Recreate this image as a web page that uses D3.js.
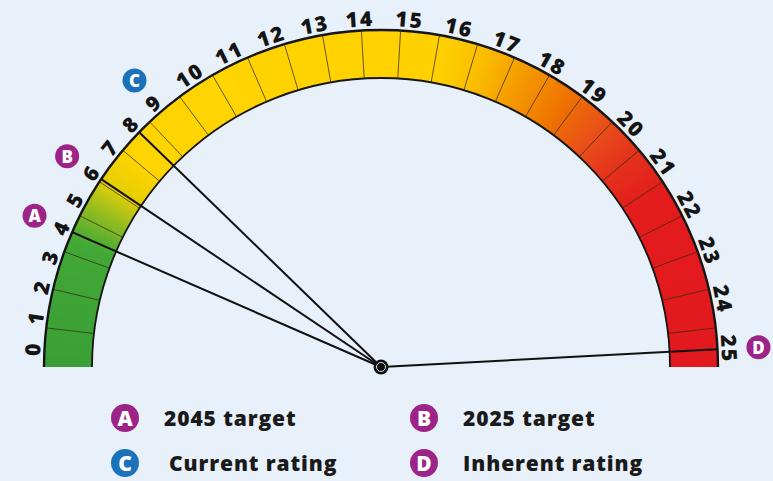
<!DOCTYPE html>
<html>
<head>
<meta charset="utf-8">
<script src="https://cdn.jsdelivr.net/npm/d3@7/dist/d3.min.js"></script>
<style>
  body { margin: 0; background: #e8f0fa; }
  text { font-family: "Open Sans", "DejaVu Sans", sans-serif; font-weight: 800; }
</style>
</head>
<body>
<div class="viz"></div>
<script>
// gauge scale labels 0..25 and the number of coloured cells in the band
var tickLabels = d3.range(0, 26);
var segmentCount = 27;

// the four markers
var markerKeys = ["A", "B", "C", "D"];
var markerValues = [4, 6, 8, 25];      // where each needle points
var badgeValues = [4, 6, 9, 25];       // label the badge sits beside
var markerNames = ["2045 target", "2025 target", "Current rating", "Inherent rating"];

var width = 773, height = 481;
var cx = 381, cy = 367;
var rOuter = 337, rInner = 289, rLabel = 349, rBadge = 378;

var svg = d3.select(".viz").append("svg")
    .attr("width", width)
    .attr("height", height);

svg.append("rect").attr("width", width).attr("height", height).attr("fill", "#e8f0fa");

// value -> angle in degrees (0 = right, 180 = left); scale is not even across the dial
var angle = d3.scaleLinear().domain([0, 9, 14, 25]).range([177, 130.7, 93.5, 3]);

// colour along the band by angle
var colour = d3.scaleLinear()
    .domain([180, 158, 152, 146, 140, 80, 72, 64, 56, 48, 40, 32, 0])
    .range(["#3a9f36", "#42a836", "#8fbb22", "#e8cf05", "#ffd500", "#ffd100", "#fbbd00",
            "#f59800", "#ef7400", "#e9501a", "#e4301c", "#e31c1e", "#e2191e"]);

var rad = function(deg) { return deg * Math.PI / 180; };
var px = function(deg, r) { return cx + r * Math.cos(rad(deg)); };
var py = function(deg, r) { return cy - r * Math.sin(rad(deg)); };

var g = svg.append("g").attr("transform", "translate(" + cx + "," + cy + ")");

// band, drawn as thin overlapping slices so the colour blends
var step = 0.5;
var slices = d3.range(0, 180, step);
var arc = d3.arc().innerRadius(rInner).outerRadius(rOuter);
g.selectAll("path.slice")
  .data(slices)
  .enter().append("path")
    .attr("class", "slice")
    .attr("d", function(d) {
      var a0 = d === 0 ? 0 : d - 0.4;
      return arc({ startAngle: rad(90 - d - step), endAngle: rad(90 - a0) });
    })
    .attr("fill", function(d) { return colour(d + step / 2); });

// cell dividers
var dividers = d3.range(1, segmentCount).map(function(k) { return k * 180 / segmentCount; });
svg.selectAll("line.div")
  .data(dividers)
  .enter().append("line")
    .attr("class", "div")
    .attr("x1", function(d) { return px(d, rInner); })
    .attr("y1", function(d) { return py(d, rInner); })
    .attr("x2", function(d) { return px(d, rOuter); })
    .attr("y2", function(d) { return py(d, rOuter); })
    .attr("stroke", "#3a2a10")
    .attr("stroke-opacity", 0.75)
    .attr("stroke-width", 1);

// outlines
[rOuter, rInner].forEach(function(r, i) {
  g.append("path")
    .attr("d", d3.arc()({ innerRadius: r, outerRadius: r, startAngle: -Math.PI / 2, endAngle: Math.PI / 2 }))
    .attr("fill", "none")
    .attr("stroke", "#161616")
    .attr("stroke-width", i === 0 ? 2.4 : 1.8);
});

// tick labels
svg.selectAll("text.tick")
  .data(tickLabels)
  .enter().append("text")
    .attr("class", "tick")
    .attr("transform", function(d) {
      var a = angle(d);
      return "translate(" + px(a, rLabel) + "," + py(a, rLabel) + ") rotate(" + (90 - a) + ")";
    })
    .attr("text-anchor", "middle")
    .attr("dominant-baseline", "central")
    .attr("font-size", 21)
    .attr("letter-spacing", 2)
    .attr("fill", "#141414")
    .text(function(d) { return d; });

// needles
svg.selectAll("line.needle")
  .data(markerValues)
  .enter().append("line")
    .attr("class", "needle")
    .attr("x1", cx).attr("y1", cy)
    .attr("x2", function(d) { return px(angle(d), rOuter); })
    .attr("y2", function(d) { return py(angle(d), rOuter); })
    .attr("stroke", "#111")
    .attr("stroke-width", 2);

// pivot
svg.append("circle").attr("cx", cx).attr("cy", cy).attr("r", 7.5).attr("fill", "#111");
svg.append("circle").attr("cx", cx).attr("cy", cy).attr("r", 4.5)
    .attr("fill", "#111").attr("stroke", "#ddd").attr("stroke-width", 1);

var badgeColour = d3.scaleOrdinal().domain(markerKeys)
    .range(["#9c2387", "#9c2387", "#1b72b8", "#9c2387"]);

function badge(sel, r, fs) {
  sel.append("circle").attr("r", r).attr("fill", function(d) { return badgeColour(d.key); });
  sel.append("text")
    .attr("text-anchor", "middle")
    .attr("dominant-baseline", "central")
    .attr("font-size", fs)
    .attr("fill", "#fff")
    .text(function(d) { return d.key; });
}

var markers = markerKeys.map(function(k, i) {
  return { key: k, value: markerValues[i], at: badgeValues[i], name: markerNames[i], i: i };
});

// badges round the dial
svg.selectAll("g.badge")
  .data(markers)
  .enter().append("g")
    .attr("class", "badge")
    .attr("transform", function(d) {
      var a = angle(d.at);
      return "translate(" + px(a, rBadge) + "," + py(a, rBadge) + ")";
    })
    .call(badge, 12, 17);

// legend
var legend = svg.selectAll("g.legend")
  .data(markers)
  .enter().append("g")
    .attr("class", "legend")
    .attr("transform", function(d) {
      return "translate(" + (d.i % 2 ? 424 : 125) + "," + (d.i < 2 ? 418 : 463) + ")";
    });
legend.call(badge, 14, 21);
legend.append("text")
    .attr("x", function(d) { return d.key === "C" ? 44 : 39; })
    .attr("dominant-baseline", "central")
    .attr("font-size", 21)
    .attr("letter-spacing", 0.9)
    .attr("fill", "#1a1a1a")
    .text(function(d) { return d.name; });
</script>
</body>
</html>
